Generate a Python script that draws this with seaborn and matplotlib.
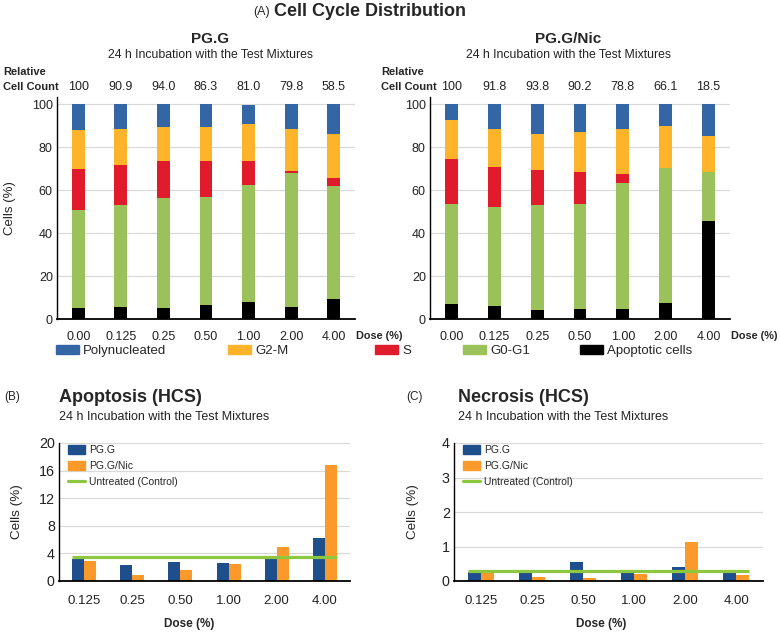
import matplotlib
matplotlib.use("Agg")
import matplotlib.pyplot as plt
import pandas as pd
import seaborn as sns
from matplotlib.lines import Line2D

sns.set_style("white")
plt.rcParams['font.family'] = ['Liberation Sans', 'DejaVu Sans']

# Panel A data (% of cells per phase)
doses_a = ['0.00', '0.125', '0.25', '0.50', '1.00', '2.00', '4.00']
phases = ['Apoptotic cells', 'G0-G1', 'S', 'G2-M', 'Polynucleated']
phase_colors = {'Polynucleated': '#3466a5', 'G2-M': '#fdb32a', 'S': '#e01b2b',
                'G0-G1': '#9bc25a', 'Apoptotic cells': '#000000'}

pgg_apop = [5.0, 5.7, 5.3, 6.4, 7.9, 5.7, 9.5]
pgg_g0g1 = [45.5, 47.5, 51.1, 50.3, 54.6, 62.2, 52.5]
pgg_s = [19.4, 18.6, 17.2, 16.6, 11.1, 1.1, 3.7]
pgg_g2m = [18.2, 16.7, 15.9, 16.2, 17.3, 19.5, 20.5]
pgg_poly = [11.9, 11.5, 10.5, 10.5, 8.9, 11.5, 13.8]
pgg_count = ['100', '90.9', '94.0', '86.3', '81.0', '79.8', '58.5']

nic_apop = [7.1, 6.2, 4.3, 4.8, 4.8, 7.6, 45.4]
nic_g0g1 = [46.5, 45.9, 48.9, 48.5, 58.5, 62.5, 23.0]
nic_s = [21.0, 18.6, 16.1, 15.1, 4.0, 0.0, 0.0]
nic_g2m = [18.1, 17.7, 16.7, 18.7, 21.1, 19.8, 16.7]
nic_poly = [7.3, 11.6, 14.0, 12.9, 11.6, 10.1, 14.9]
nic_count = ['100', '91.8', '93.8', '90.2', '78.8', '66.1', '18.5']

# Panels B and C data
doses_bc = ['0.125', '0.25', '0.50', '1.00', '2.00', '4.00']
apo_pgg = [3.2, 2.3, 2.75, 2.6, 3.3, 6.3]
apo_nic = [2.9, 0.8, 1.55, 2.4, 5.0, 16.8]
apo_control = 3.5
nec_pgg = [0.27, 0.27, 0.55, 0.27, 0.41, 0.25]
nec_nic = [0.27, 0.11, 0.09, 0.19, 1.12, 0.16]
nec_control = 0.29

W, H = 780, 634
fig = plt.figure(figsize=(W / 100, H / 100), dpi=100)


def box(x0, y0, x1, y1):
    # pixel box (top-left origin) -> figure fraction rect
    return [x0 / W, 1 - y1 / H, (x1 - x0) / W, (y1 - y0) / H]


def style_axes(ax, tick_size):
    sns.despine(ax=ax)
    ax.spines['left'].set_color('black')
    ax.spines['bottom'].set_color('black')
    ax.spines['left'].set_linewidth(1.0)
    ax.spines['bottom'].set_linewidth(1.3)
    ax.yaxis.grid(True, color='#d9d9d9', lw=0.9)
    ax.set_axisbelow(True)
    ax.tick_params(length=0, labelsize=tick_size, colors='#222222')
    ax.tick_params(axis='x', pad=9)
    ax.tick_params(axis='y', pad=3)
    ax.set_xlabel('')
    ax.set_ylabel('')


def stacked(ax, parts, counts):
    df = pd.DataFrame(dict(zip(phases, parts)))
    df['dose'] = doses_a
    cum = df[phases].cumsum(axis=1)
    for ph in reversed(phases):
        sns.barplot(x=df['dose'], y=cum[ph], color=phase_colors[ph], width=0.3,
                    order=doses_a, ax=ax, saturation=1, edgecolor='none')
    ax.set_ylim(0, 103.3)
    ax.set_yticks(range(0, 101, 20))
    style_axes(ax, 9)
    trans = ax.get_xaxis_transform()
    for i, c in enumerate(counts):
        ax.text(i, 1.045, c, transform=trans, ha='center', va='center', fontsize=9,
                color='#222222')
    ax.text(1.0 + 1 / 300, -0.077, 'Dose (%)', transform=ax.transAxes, ha='left',
            va='center', fontsize=7.8, fontweight='bold')


ax1 = fig.add_axes(box(57, 97, 355, 319))
stacked(ax1, [pgg_apop, pgg_g0g1, pgg_s, pgg_g2m, pgg_poly], pgg_count)
ax1.set_ylabel('Cells (%)', fontsize=9.5)
ax1.yaxis.set_label_coords(-(57 - 16) / 298, 0.5)

ax2 = fig.add_axes(box(430, 97, 730, 319))
stacked(ax2, [nic_apop, nic_g0g1, nic_s, nic_g2m, nic_poly], nic_count)

# headers
fig.text(270 / W, 1 - 12 / H, '(A)', ha='right', va='center', fontsize=9)
fig.text(274 / W, 1 - 12 / H, 'Cell Cycle Distribution', ha='left', va='center',
         fontsize=13, fontweight='bold')
fig.text(210 / W, 1 - 39 / H, 'PG.G', ha='center', va='center', fontsize=11,
         fontweight='bold')
fig.text(210 / W, 1 - 55 / H, '24 h Incubation with the Test Mixtures', ha='center',
         va='center', fontsize=8.8, color='#222222')
fig.text(568 / W, 1 - 39 / H, 'PG.G/Nic', ha='center', va='center', fontsize=11,
         fontweight='bold')
fig.text(568 / W, 1 - 55 / H, '24 h Incubation with the Test Mixtures', ha='center',
         va='center', fontsize=8.8, color='#222222')
for x in (3, 381):
    fig.text(x / W, 1 - 72 / H, 'Relative', ha='left', va='center', fontsize=8,
             fontweight='bold')
    fig.text(x / W, 1 - 87 / H, 'Cell Count', ha='left', va='center', fontsize=8,
             fontweight='bold')

# phase legend row
legend_x = {'Polynucleated': 56, 'G2-M': 228, 'S': 375, 'G0-G1': 463,
            'Apoptotic cells': 580}
for ph in ['Polynucleated', 'G2-M', 'S', 'G0-G1', 'Apoptotic cells']:
    h = plt.Rectangle((0, 0), 1, 1, color=phase_colors[ph])
    fig.legend([h], [ph], loc='center left',
               bbox_to_anchor=(legend_x[ph] / W, 1 - 351 / H), frameon=False,
               fontsize=9.5, handlelength=1.75, handleheight=0.65,
               handletextpad=0.3, borderpad=0, borderaxespad=0)


def grouped(ax, v1, v2, control, ymax, step, width_px, dose_x, ylab_right):
    df = pd.DataFrame({'dose': doses_bc * 2, 'value': v1 + v2,
                       'group': ['PG.G'] * len(v1) + ['PG.G/Nic'] * len(v2)})
    sns.barplot(data=df, x='dose', y='value', hue='group', order=doses_bc,
                palette=['#1f4e8c', '#fb9a2b'], width=0.5, saturation=1, ax=ax,
                edgecolor='none')
    ax.hlines(control, -0.25, len(doses_bc) - 0.75, color='#8dc63f', lw=2.3, zorder=5)
    ax.set_ylim(0, ymax)
    ax.set_yticks([i * step for i in range(int(round(ymax / step)) + 1)])
    style_axes(ax, 9.5)
    ax.tick_params(axis='y', labelsize=10.3)
    ax.tick_params(axis='x', pad=10)
    ax.set_xlabel('Dose (%)', fontsize=8.5, fontweight='bold')
    ax.xaxis.set_label_coords(dose_x, -(618 - 581) / 138)
    ax.set_ylabel('Cells (%)', fontsize=9.7)
    ax.yaxis.set_label_coords(-ylab_right / width_px, 0.5)
    handles = [plt.Rectangle((0, 0), 1, 1, color='#1f4e8c'),
               plt.Rectangle((0, 0), 1, 1, color='#fb9a2b'),
               Line2D([0], [0], color='#8dc63f', lw=2.3)]
    ax.legend(handles, ['PG.G', 'PG.G/Nic', 'Untreated (Control)'], loc='upper left',
              bbox_to_anchor=(0.025, 1.0), frameon=False, fontsize=7.5,
              handlelength=1.6, handleheight=1.05, handletextpad=0.4,
              labelspacing=0.55, borderpad=0.15, borderaxespad=0)


ax3 = fig.add_axes(box(59, 443, 350, 581))
grouped(ax3, apo_pgg, apo_nic, apo_control, 20, 4, 291, (189 - 59) / 291, 59 - 23)
ax4 = fig.add_axes(box(454, 443, 763, 581))
grouped(ax4, nec_pgg, nec_nic, nec_control, 4, 1, 309, (601 - 454) / 309, 454 - 419)

fig.text(4 / W, 1 - 397 / H, '(B)', ha='left', va='center', fontsize=8.5)
fig.text(59 / W, 1 - 398 / H, 'Apoptosis (HCS)', ha='left', va='center',
         fontsize=13, fontweight='bold')
fig.text(59 / W, 1 - 417 / H, '24 h Incubation with the Test Mixtures', ha='left',
         va='center', fontsize=9, color='#222222')
fig.text(406 / W, 1 - 397 / H, '(C)', ha='left', va='center', fontsize=8.5)
fig.text(458 / W, 1 - 398 / H, 'Necrosis (HCS)', ha='left', va='center',
         fontsize=13, fontweight='bold')
fig.text(458 / W, 1 - 417 / H, '24 h Incubation with the Test Mixtures', ha='left',
         va='center', fontsize=9, color='#222222')

fig.savefig('out.png', dpi=100)
